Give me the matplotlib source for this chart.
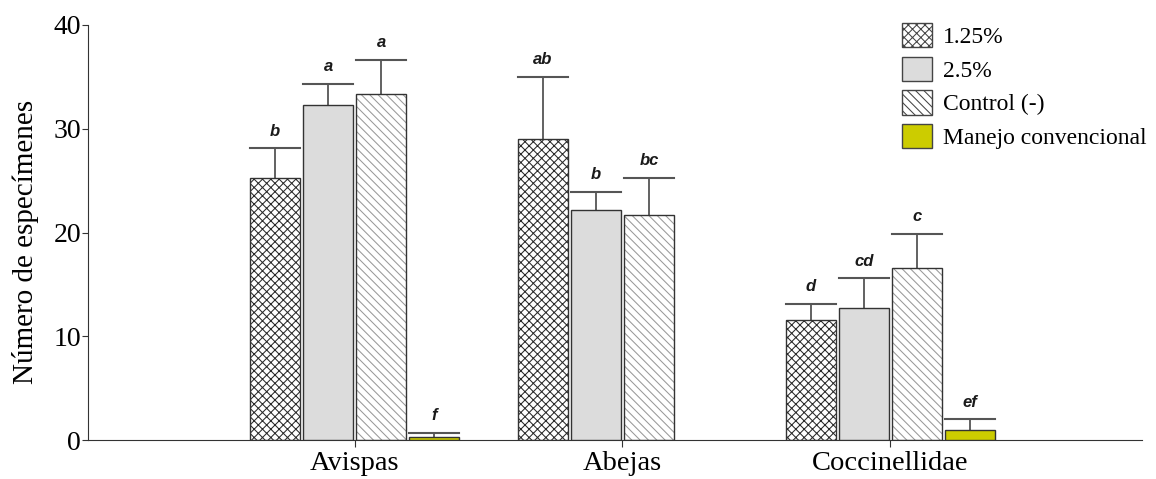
import numpy as np
from matplotlib import pyplot as plt
from matplotlib.patches import Patch

groups = ["Avispas", "Abejas", "Coccinellidae"]
series = ["1.25%", "2.5%", "Control (-)", "Manejo convencional"]

v125 = [25.3, 29.0, 11.6]
v25 = [32.3, 22.2, 12.7]
vctl = [33.3, 21.7, 16.6]
vman = [0.3, np.nan, 1.0]

e125 = [2.8, 6.0, 1.5]
e25 = [2.0, 1.7, 2.9]
ectl = [3.3, 3.6, 3.3]
eman = [0.4, np.nan, 1.0]

l125 = ["b", "ab", "d"]
l25 = ["a", "b", "cd"]
lctl = ["a", "bc", "c"]
lman = ["f", "", "ef"]

values = [v125, v25, vctl, vman]
errors = [e125, e25, ectl, eman]
letters = [l125, l25, lctl, lman]

faces = ["white", "#dcdcdc", "white", "#cccc00"]
hatches = ["xxxx", None, "\\\\\\\\", None]
hcolors = ["#2a2a2a", None, "#999999", None]

plt.rcParams["hatch.linewidth"] = 0.75

fig = plt.figure(figsize=(11.56, 4.79), dpi=100)
ax = fig.add_axes([0.076, 0.081, 0.912, 0.867])

x = np.arange(len(groups))
w = 0.187
pitch = 0.198
for i in range(4):
    pos = x + (i - 1.5) * pitch
    vals = np.array(values[i], dtype=float)
    errs = np.array(errors[i], dtype=float)
    ok = ~np.isnan(vals)
    if hatches[i]:
        ax.bar(pos[ok], vals[ok], w, color=faces[i], hatch=hatches[i],
               edgecolor=hcolors[i], linewidth=0, zorder=2)
        ax.bar(pos[ok], vals[ok], w, fill=False, edgecolor="#333333",
               linewidth=1.0, zorder=3)
    else:
        ax.bar(pos[ok], vals[ok], w, color=faces[i], edgecolor="#333333",
               linewidth=1.0, zorder=3)
    for p, v, e in zip(pos[ok], vals[ok], errs[ok]):
        ax.plot([p, p], [v, v + e], color="#555555", lw=1.3, zorder=1)
        ax.plot([p - w / 2, p + w / 2], [v + e, v + e], color="#555555", lw=1.5, zorder=1)
    for p, v, e, t in zip(pos, vals, errs, letters[i]):
        if t:
            ax.annotate(t, (p, v + e), xytext=(0, 7), textcoords="offset points",
                        ha="center", va="bottom", fontsize=12,
                        fontweight="bold", fontstyle="italic",
                        family="Liberation Sans", color="#1a1a1a")

ax.set_xlim(-0.996, 2.94)
ax.set_ylim(0, 40)
ax.set_yticks([0, 10, 20, 30, 40])
ax.set_xticks(x)
ax.set_xticklabels(groups, family="Liberation Serif", fontsize=20.5)
for lab in ax.get_yticklabels():
    lab.set_family("Liberation Serif")
    lab.set_fontsize(20)
ax.set_ylabel("Número de especímenes", family="Liberation Serif", fontsize=21)
ax.yaxis.set_label_coords(-0.046, 0.477)
ax.spines["top"].set_visible(False)
ax.spines["right"].set_visible(False)
ax.spines["left"].set_color("#333333")
ax.spines["bottom"].set_color("#333333")
ax.tick_params(axis="y", length=4, pad=1, color="#333333")
ax.tick_params(axis="x", length=5, pad=3, color="#333333")

handles = []
for i in range(4):
    if hatches[i]:
        handles.append(Patch(facecolor=faces[i], hatch=hatches[i], edgecolor="#444444", label=series[i]))
    else:
        handles.append(Patch(facecolor=faces[i], edgecolor="#444444", label=series[i]))
ax.legend(handles=handles, loc="upper left", bbox_to_anchor=(0.772, 1.004), frameon=False,
          prop={"family": "Liberation Serif", "size": 17}, handlelength=1.27,
          handleheight=1.2, handletextpad=0.47, labelspacing=0.36,
          borderaxespad=0, borderpad=0)

fig.savefig("out.png", dpi=100)
